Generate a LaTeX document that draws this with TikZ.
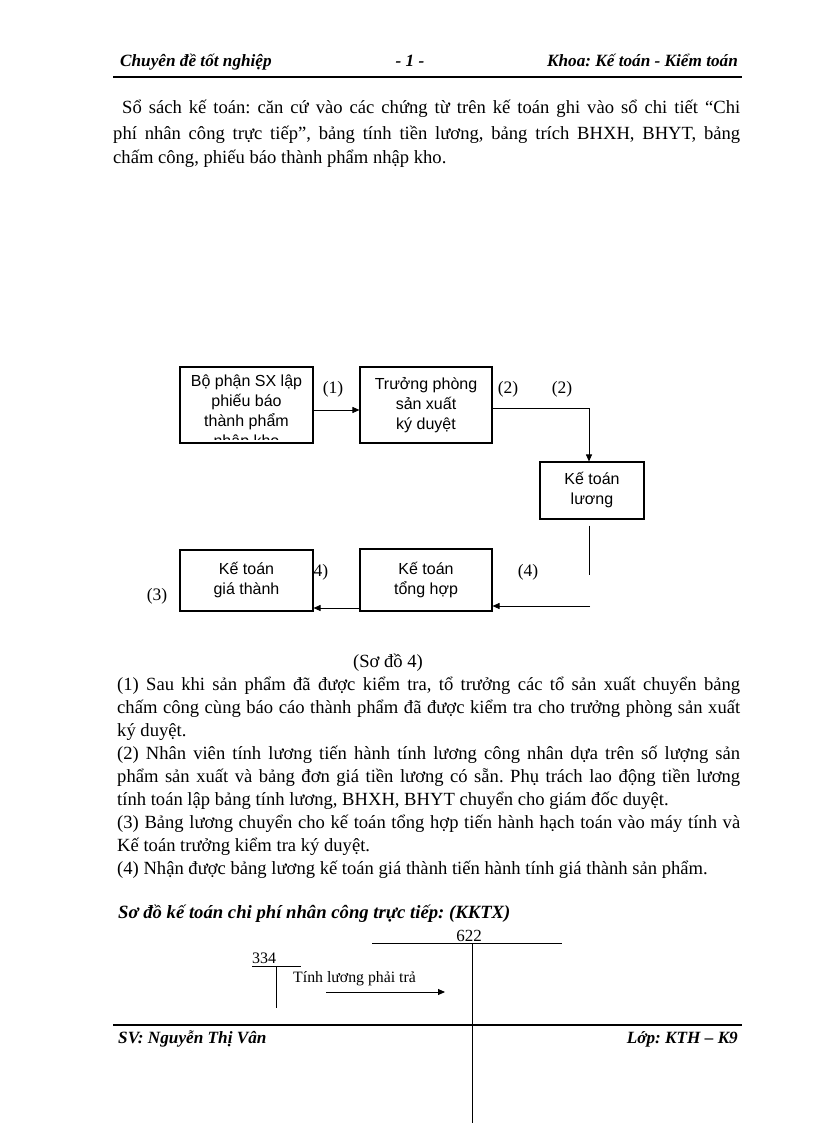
\documentclass[tikz,border=0pt]{standalone}
\usepackage{fontspec}
\setmainfont{Liberation Serif}
\newfontfamily\boxfont{Liberation Sans}
\usetikzlibrary{arrows.meta}
\frenchspacing
\begin{document}
\begin{tikzpicture}[x=1pt,y=-1pt,
  body/.style={inner sep=0pt, anchor=base west, font=\fontsize{18.6}{23}\selectfont\frenchspacing},
  hdr/.style={inner sep=0pt, font=\fontsize{17.2}{19}\selectfont\bfseries\itshape},
  fbox/.style={draw, line width=1.1pt, fill=white, inner sep=0pt, align=center, font=\boxfont\fontsize{16}{20}\selectfont},
  lbl/.style={inner sep=0pt, font=\fontsize{17.5}{21}\selectfont},
  conn/.style={line width=0.9pt},
  rulestyle/.style={line width=2pt},
  arr/.style={conn, -{Triangle[length=7pt,width=6pt]}}]
\fill[white] (0,0) rectangle (816,1123);
\useasboundingbox (0,0) rectangle (816,1123);

% header
\node[hdr, anchor=base west] (h1) at (120,67) {Chuyên đề tốt nghiệp};
\node[hdr, anchor=base] (h2) at (410,67) {- 1 -};
\node[hdr, anchor=base east] (h3) at (738,67) {Khoa: Kế toán - Kiểm toán};
\coordinate (hr1) at (113,77); \coordinate (hr2) at (742,77);
\draw[rulestyle] (hr1) -- (hr2);

% paragraph 1
\node[body] (p1) at (122,114) {\makebox[618pt][s]{Sổ sách kế toán: căn cứ vào các chứng từ trên kế toán ghi vào sổ chi tiết “Chi}};
\node[body] (p2) at (113,140) {\makebox[627pt][s]{phí nhân công trực tiếp”, bảng tính tiền lương, bảng trích BHXH, BHYT, bảng}};
\node[body] (p3) at (113,164) {chấm công, phiếu báo thành phẩm nhập kho.};

% flowchart
\node[fbox, minimum width=133pt, minimum height=76pt] (A) at (246.5,405) {};
\begin{scope}
  \clip (181,368) rectangle (312,439);
  \node[inner sep=0pt, align=center, font=\boxfont\fontsize{16}{20}\selectfont] (At) at (246.5,412) {Bộ phận SX lập\\phiếu báo\\thành phẩm\\nhập kho};
\end{scope}
\node[fbox, minimum width=132pt, minimum height=76pt] (B) at (426,405) {Trưởng phòng\\sản xuất\\ký duyệt};
\node[fbox, minimum width=104pt, minimum height=57pt] (C) at (592,490.5) {Kế toán\\lương};
\node[fbox, minimum width=132pt, minimum height=62pt] (D) at (426,580) {Kế toán\\tổng hợp};
\node[fbox, minimum width=133pt, minimum height=61pt] (E) at (246.5,580.5) {Kế toán\\giá thành};

\draw[arr] ([yshift=-5pt]A.east) -- ([yshift=-5pt]B.west);
\draw[arr] ([yshift=-3pt]B.east) -| ([xshift=-3pt]C.north);
\coordinate (k1) at (589,575);
\draw[conn] ([xshift=-3pt,yshift=-6pt]C.south) -- (k1);
\coordinate (k2) at (590,606);
\draw[arr] (k2) -- (k2 -| D.east);
\coordinate (k3) at ([yshift=-28pt]D.west);
\draw[arr] (k3) -- (k3 -| E.east);

\node[lbl] (l1) at (333,389) {(1)};
\node[lbl] (l2) at (508,389) {(2)};
\node[lbl] (l3) at (562,389) {(2)};
\node[lbl] (l4) at (528,572) {(4)};
\node[lbl] (l5) at (321,572) {4)};
\node[lbl] (l6) at (157,596) {(3)};

% caption and explanation
\node[body, anchor=base] (q0) at (388,667) {(Sơ đồ 4)};
\node[body] (q1) at (117,690) {\makebox[623pt][s]{(1) Sau khi sản phẩm đã được kiểm tra, tổ trưởng các tổ sản xuất chuyển bảng}};
\node[body] (q2) at (117,713) {\makebox[623pt][s]{chấm công cùng báo cáo thành phẩm đã được kiểm tra cho trưởng phòng sản xuất}};
\node[body] (q3) at (117,736) {ký duyệt.};
\node[body] (q4) at (117,759) {\makebox[623pt][s]{(2) Nhân viên tính lương tiến hành tính lương công nhân dựa trên số lượng sản}};
\node[body] (q5) at (117,782) {\makebox[623pt][s]{phẩm sản xuất và bảng đơn giá tiền lương có sẵn. Phụ trách lao động tiền lương}};
\node[body] (q6) at (117,805) {tính toán lập bảng tính lương, BHXH, BHYT chuyển cho giám đốc duyệt.};
\node[body] (q7) at (117,828) {\makebox[623pt][s]{(3) Bảng lương chuyển cho kế toán tổng hợp tiến hành hạch toán vào máy tính và}};
\node[body] (q8) at (117,851) {Kế toán trưởng kiểm tra ký duyệt.};
\node[body] (q9) at (117,874) {(4) Nhận được bảng lương kế toán giá thành tiến hành tính giá thành sản phẩm.};

% T-account diagram
\node[inner sep=0pt, anchor=base west, font=\fontsize{18.7}{21}\selectfont\bfseries\itshape] (title) at (118,918) {Sơ đồ kế toán chi phí nhân công trực tiếp: (KKTX)};
\coordinate (a1) at (372,943); \coordinate (a2) at (562,943);
\draw[conn] (a1) -- (a2);
\node[inner sep=0pt, anchor=base, font=\fontsize{17}{20}\selectfont] (n622) at (469,941) {622};
\coordinate (v1) at (472,943); \coordinate (v2) at (472,1123);
\draw[conn] (v1) -- (v2);
\node[inner sep=0pt, anchor=base west, font=\fontsize{16}{18}\selectfont] (n334) at (252,963) {334};
\coordinate (b1) at (252,966); \coordinate (b2) at (301,966);
\draw[conn] (b1) -- (b2);
\coordinate (b3) at (276,966); \coordinate (b4) at (276,1008);
\draw[conn] (b3) -- (b4);
\node[inner sep=0pt, anchor=base west, font=\fontsize{15.8}{18}\selectfont] (tl) at (293,982) {Tính lương phải trả};
\coordinate (t1) at (326,992); \coordinate (t2) at (445,992);
\draw[arr] (t1) -- (t2);

% footer
\coordinate (fr1) at (113,1025); \coordinate (fr2) at (742,1025);
\draw[rulestyle] (fr1) -- (fr2);
\node[hdr, anchor=base west] (f1) at (118,1043) {SV: Nguyễn Thị Vân};
\node[hdr, anchor=base east] (f2) at (738,1043) {Lớp: KTH – K9};
\end{tikzpicture}
\end{document}
